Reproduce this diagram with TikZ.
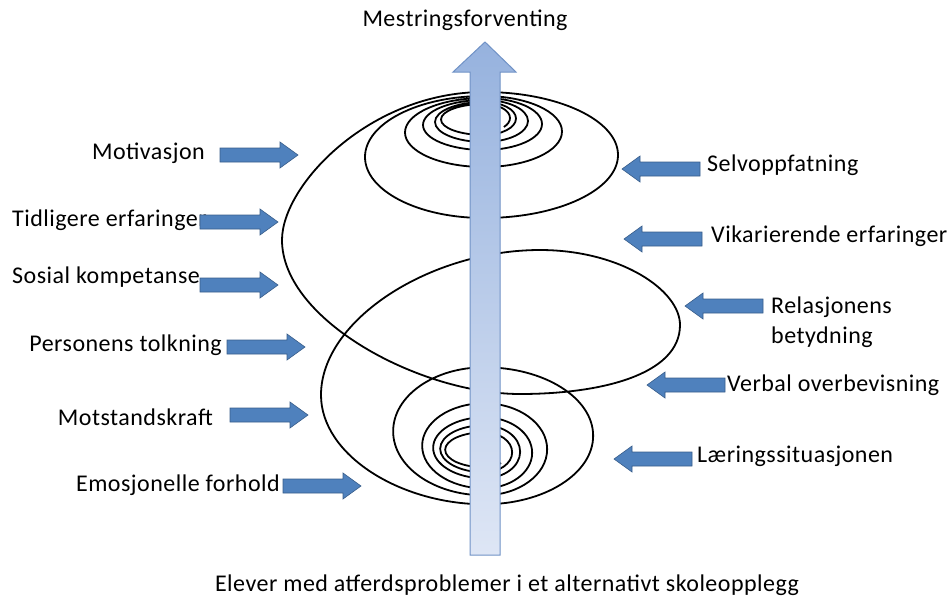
\documentclass[tikz,border=0pt]{standalone}
\usepackage{fontspec}
\setmainfont[LetterSpace=2]{Carlito}
\definecolor{pilblaa}{RGB}{79,129,189}
\definecolor{pilkant}{RGB}{56,93,138}
\definecolor{stammekant}{RGB}{112,146,198}
\definecolor{stammetopp}{RGB}{150,178,222}
\definecolor{stammebunn}{RGB}{222,230,245}
\tikzset{
  pil/.pic={\filldraw[fill=pilblaa,draw=pilkant,line width=0.6] (0,-7)--(60,-7)--(60,-13)--(78,0)--(60,13)--(60,7)--(0,7)--cycle;},
  etikett/.style={font=\fontsize{24}{30}\selectfont,inner sep=0pt},
  spiral/.style={line width=1.8,black}
}
\begin{document}
\begin{tikzpicture}[x=1pt,y=-1pt]
\useasboundingbox (0,0) rectangle (947,603);
% spiralen: nede, store sloyfer, oppe
\draw[spiral] (501,463) arc[start angle=40,end angle=90,x radius=22,y radius=12]
  \foreach \s/\rx/\ry in {90/39/17.5,270/28/20,90/44/23.5,270/36/26.5,90/51/30.5,
    270/48/35.5,90/62/42.5,270/63/46,90/91/64,270/109/68.5}
  {arc[start angle=\s,delta angle=180,x radius=\rx,y radius=\ry]}
  .. controls (400,504) and (321,455) .. (321,395)
  .. controls (321,320) and (430,250) .. (540,250)
  .. controls (620,250) and (680,290) .. (680,325)
  .. controls (680,375) and (600,394) .. (520,394)
  .. controls (420,394) and (282,320) .. (282,240)
  .. controls (282,185) and (370,92) .. (484,92)
  \foreach \s/\rx/\ry in {270/134/63,90/119/61,270/78/35.5,90/79/34.5,270/58/26,
    90/61/25,270/44/21,90/49/20,270/32/16.5,90/43/15.5}
  {arc[start angle=\s,delta angle=180,x radius=\rx,y radius=\ry]}
  arc[start angle=270,end angle=400,x radius=26,y radius=14];
% stor pil
\draw[draw=stammekant,line width=1,top color=stammetopp,bottom color=stammebunn]
  (470,555)--(470,72)--(453,72)--(485,42)--(516,72)--(500,72)--(500,555)--cycle;
% tekst
\node[etikett] (mestring) at (465,20) {Mestringsforventing};
\node[etikett] (elever) at (507,585) {Elever med atferdsproblemer i et alternativt skoleopplegg};
\node[etikett,anchor=east] (motivasjon) at (205,153) {Motivasjon};
\node[etikett,anchor=west] (tidligere) at (12,220) {Tidligere erfaringer};
\node[etikett,anchor=west] (sosial) at (12,277) {Sosial kompetanse};
\node[etikett,anchor=east] (tolkning) at (222,345) {Personens tolkning};
\node[etikett,anchor=east] (motstand) at (213,417) {Motstandskraft};
\node[etikett,anchor=east] (emosjon) at (280,485) {Emosjonelle forhold};
\node[etikett,anchor=west] (selv) at (707,165) {Selvoppfatning};
\node[etikett,anchor=west] (vikar) at (711,236) {Vikarierende erfaringer};
\node[etikett,anchor=west,align=left] (relasjon) at (771,322) {Relasjonens\\betydning};
\node[etikett,anchor=west] (verbal) at (727,385) {Verbal overbevisning};
\node[etikett,anchor=west] (laering) at (697,456) {Læringssituasjonen};
% blaa piler
\pic at (220,155) {pil};
\pic at (200,222) {pil};
\pic at (200,285) {pil};
\pic at (227,347) {pil};
\pic at (230,415) {pil};
\pic at (283,486) {pil};
\pic[xscale=-1] at (700,169) {pil};
\pic[xscale=-1] at (702,239) {pil};
\pic[xscale=-1] at (763,306) {pil};
\pic[xscale=-1] at (725,385) {pil};
\pic[xscale=-1] at (692,459) {pil};
\end{tikzpicture}
\end{document}
